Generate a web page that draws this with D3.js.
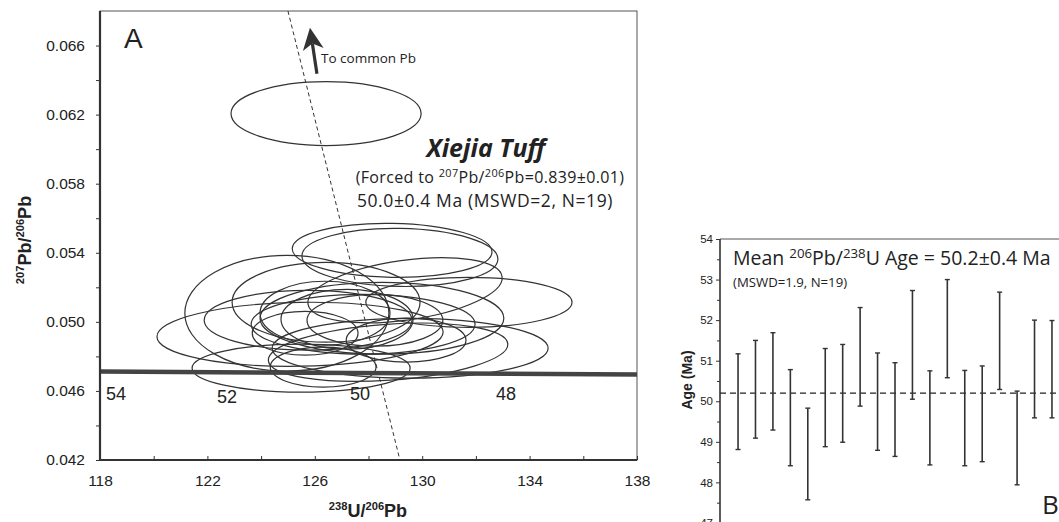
<!DOCTYPE html>
<html><head><meta charset="utf-8">
<script src="https://cdn.jsdelivr.net/npm/d3@7"></script>
<style>body{margin:0;background:#fff} svg{display:block}</style>
</head><body>
<svg id="c" width="1059" height="522"></svg>
<script>
// ---------- Panel A data (Tera-Wasserburg) ----------
const xTicksA = [118, 122, 126, 130, 134, 138];
const xMinorA = [120, 124, 128, 132, 136];
const yTicksA = [0.042, 0.046, 0.050, 0.054, 0.058, 0.062, 0.066];
const yMinorA = [0.044, 0.048, 0.052, 0.056, 0.060, 0.064];
// ellipse centres (238U/206Pb, 207Pb/206Pb), half-widths and tilt (deg)
const ellX  = [126.42,128.88,129.17,131.74,124.96,125.45,125.49,125.75,126.42,127.80,126.38,128.73,129.55,127.20,128.24,129.36,129.40,125.64,126.31,128.50];
const ellY  = [0.06206,0.05414,0.05373,0.05113,0.05050,0.04928,0.04732,0.05009,0.05113,0.04986,0.05050,0.04824,0.04847,0.05015,0.05009,0.05183,0.04894,0.04934,0.04738,0.05021];
const ellRX = [3.54,3.72,3.65,3.84,3.80,5.33,4.06,3.87,3.50,4.17,2.42,4.47,5.14,2.46,2.53,3.65,2.23,1.97,1.97,4.54];
const ellRY = [0.00185,0.00156,0.00168,0.00145,0.00335,0.00185,0.00139,0.00173,0.00231,0.00173,0.00185,0.00162,0.00173,0.00173,0.00150,0.00173,0.00127,0.00127,0.00116,0.00208];
const ellTilt = [0,1,1,0,0,-1,0,0,0,0,0,-4,0,0,0,-8,0,0,0,0];
// concordia
const concX = [118, 138];
const concY = [0.04712, 0.04695];
const ageLabels = ["54", "52", "50", "48"];
const ageLabelX = [118.6, 122.73, 127.68, 133.12];
const ageLabelY = [0.04547, 0.04530, 0.04547, 0.04547];
// common-Pb regression (dashed) and arrow
const regX = [125.0, 129.17];
const regY = [0.068, 0.042];
const arrowX = [126.08, 125.82];
const arrowY = [0.06437, 0.06703];

// ---------- Panel B data (weighted mean) ----------
const spotIdx = d3.range(1, 20);
const ageHigh = [51.17,51.50,51.69,50.78,49.83,51.30,51.40,52.31,51.19,50.95,52.73,50.75,53.00,50.76,50.87,52.69,50.25,52.00,51.99];
const ageLow  = [48.81,49.09,49.29,48.41,47.57,48.88,48.99,49.88,48.79,48.64,50.05,48.43,50.58,48.41,48.51,50.29,47.94,49.59,49.59];
const meanAge = 50.2;
const yTicksB = [47, 48, 49, 50, 51, 52, 53, 54];
const yMinorB = [46.5, 47.5, 48.5, 49.5, 50.5, 51.5, 52.5, 53.5];

const svg = d3.select("#c");
const INK = "#333";
const SANS = "'Liberation Sans', Arial, sans-serif";
const HUM = "'Open Sans', 'Noto Sans', sans-serif";

function rich(g, x, y, parts, size, opts = {}) {
  const t = g.append("text").attr("x", x).attr("y", y)
    .attr("font-size", size).attr("font-family", opts.family || HUM)
    .attr("fill", opts.fill || "#222")
    .attr("text-anchor", opts.anchor || "start");
  if (opts.weight) t.attr("font-weight", opts.weight);
  if (opts.style) t.attr("font-style", opts.style);
  if (opts.transform) t.attr("transform", opts.transform);
  if (opts.spacing) t.attr("letter-spacing", opts.spacing);
  const shift = size * 0.38, supSize = size * (opts.supScale || 0.68);
  let up = false;
  parts.forEach(([s, sup]) => {
    const ts = t.append("tspan").text(s);
    if (sup && !up) { ts.attr("dy", -shift).attr("font-size", supSize); up = true; }
    else if (sup) { ts.attr("font-size", supSize); }
    else if (!sup && up) { ts.attr("dy", shift); up = false; }
  });
  return t;
}

// ================= Panel A =================
const xA = d3.scaleLinear().domain([118, 138]).range([100, 637]);
const yA = d3.scaleLinear().domain([0.042, 0.068]).range([460, 11]);
const gA = svg.append("g");

// frame
gA.append("rect").attr("x", xA(118)).attr("y", yA(0.068))
  .attr("width", xA(138) - xA(118)).attr("height", yA(0.042) - yA(0.068))
  .attr("fill", "none").attr("stroke", "#555").attr("stroke-width", 1);

// regression dashed line
gA.append("line").attr("x1", xA(regX[0])).attr("y1", yA(regY[0]))
  .attr("x2", xA(regX[1])).attr("y2", yA(regY[1]))
  .attr("stroke", "#333").attr("stroke-width", 1).attr("stroke-dasharray", "4,3");

// ellipses
const ell = gA.append("g");
ellX.forEach((cx, i) => {
  const px = xA(cx), py = yA(ellY[i]);
  const rx = xA(cx + ellRX[i]) - px, ry = yA(ellY[i] - ellRY[i]) - py;
  ell.append("ellipse").attr("cx", px).attr("cy", py).attr("rx", rx).attr("ry", ry)
    .attr("transform", `rotate(${ellTilt[i]},${px},${py})`)
    .attr("fill", "none").attr("stroke", "#333").attr("stroke-width", 1.2);
});

// concordia
gA.append("path").datum(concX.map((x, i) => [x, concY[i]]))
  .attr("d", d3.line().x(d => xA(d[0])).y(d => yA(d[1])))
  .attr("stroke", "#444").attr("stroke-width", 4.5).attr("fill", "none");
ageLabels.forEach((s, i) => {
  gA.append("text").attr("x", xA(ageLabelX[i])).attr("y", yA(ageLabelY[i]))
    .attr("text-anchor", "middle").attr("font-family", SANS).attr("font-size", 18)
    .attr("fill", "#222").text(s);
});

// axes
const axB = d3.axisBottom(xA).tickValues(xTicksA).tickSize(-4).tickPadding(15).tickFormat(d3.format("d"));
const gx = gA.append("g").attr("transform", `translate(0,${yA(0.042)})`).call(axB);
gx.select(".domain").remove();
gx.selectAll("text").attr("font-family", SANS).attr("font-size", 15.5).attr("fill", "#222");
gx.selectAll("line").attr("stroke", INK);
gA.append("g").attr("transform", `translate(0,${yA(0.042)})`)
  .call(d3.axisBottom(xA).tickValues(xMinorA).tickSize(-4).tickFormat(""))
  .call(g => g.select(".domain").remove()).selectAll("line").attr("stroke", INK);

const axL = d3.axisLeft(yA).tickValues(yTicksA).tickSize(4).tickPadding(11).tickFormat(d3.format(".3f"));
const gy = gA.append("g").attr("transform", `translate(${xA(118)},0)`).call(axL);
gy.select(".domain").remove();
gy.selectAll("text").attr("font-family", SANS).attr("font-size", 15.5).attr("fill", "#222");
gy.selectAll("line").attr("stroke", INK);
gA.append("g").attr("transform", `translate(${xA(118)},0)`)
  .call(d3.axisLeft(yA).tickValues(yMinorA).tickSize(4).tickFormat(""))
  .call(g => g.select(".domain").remove()).selectAll("line").attr("stroke", INK);

gA.append("line").attr("x1", xA(118)).attr("x2", xA(118)).attr("y1", yA(0.068)).attr("y2", yA(0.042) + 1)
  .attr("stroke", INK).attr("stroke-width", 2.2);
gA.append("line").attr("x1", xA(118) - 1).attr("x2", xA(138)).attr("y1", yA(0.042)).attr("y2", yA(0.042))
  .attr("stroke", INK).attr("stroke-width", 2.2);

// axis titles
rich(gA, 368, 517, [["238", true], ["U/", false], ["206", true], ["Pb", false]], 18,
  { family: SANS, weight: "bold", anchor: "middle", supScale: 0.62 });
rich(gA, 0, 0, [["207", true], ["Pb/", false], ["206", true], ["Pb", false]], 18,
  { family: SANS, weight: "bold", anchor: "middle", supScale: 0.62, transform: "translate(31,240) rotate(-90)" });

// label A
gA.append("text").attr("x", 124).attr("y", 48).attr("font-family", SANS).attr("font-size", 28)
  .attr("fill", "#222").text("A");

// arrow to common Pb
const ax0 = xA(arrowX[0]), ay0 = yA(arrowY[0]), ax1 = xA(arrowX[1]), ay1 = yA(arrowY[1]);
const ang = Math.atan2(ay1 - ay0, ax1 - ax0);
const hl = 22, hw = 10.5, notch = 6;
const ux = Math.cos(ang), uy = Math.sin(ang), nx = -uy, ny = ux;
const bx = ax1 - ux * hl, by = ay1 - uy * hl;
gA.append("line").attr("x1", ax0).attr("y1", ay0).attr("x2", bx + ux * notch).attr("y2", by + uy * notch)
  .attr("stroke", "#333").attr("stroke-width", 3.2);
gA.append("path")
  .attr("d", `M${ax1},${ay1} L${bx + nx * hw},${by + ny * hw} L${bx + ux * notch},${by + uy * notch} L${bx - nx * hw},${by - ny * hw} Z`)
  .attr("fill", "#333");
gA.append("text").attr("x", 321).attr("y", 63).attr("font-family", HUM).attr("font-size", 13.5)
  .attr("fill", "#222").text("To common Pb");

// title block
gA.append("text").attr("x", 486).attr("y", 157).attr("text-anchor", "middle")
  .attr("font-family", HUM).attr("font-size", 25).attr("font-weight", "bold").attr("font-style", "italic")
  .attr("fill", "#222").text("Xiejia Tuff");
rich(gA, 490, 183, [["(Forced to ", false], ["207", true], ["Pb/", false], ["206", true], ["Pb=0.839±0.01)", false]], 16,
  { anchor: "middle", spacing: 0.35 });
gA.append("text").attr("x", 485).attr("y", 206.5).attr("text-anchor", "middle")
  .attr("font-family", HUM).attr("font-size", 17.5).attr("letter-spacing", 0.6).attr("fill", "#222")
  .text("50.0±0.4 Ma (MSWD=2, N=19)");

// ================= Panel B =================
const xB = d3.scaleLinear().domain([0, 20]).range([720.6, 1069.4]);
const yB = d3.scaleLinear().domain([46, 54]).range([563.5, 239]);
const gB = svg.append("g");

gB.append("line").attr("x1", 720).attr("x2", 1059).attr("y1", yB(54)).attr("y2", yB(54))
  .attr("stroke", "#555").attr("stroke-width", 1);

const gyB = gB.append("g").attr("transform", "translate(720,0)")
  .call(d3.axisLeft(yB).tickValues(yTicksB).tickSize(4).tickPadding(3).tickFormat(d3.format("d")));
gyB.select(".domain").remove();
gyB.selectAll("text").attr("font-family", SANS).attr("font-size", 11.5).attr("fill", "#222");
gyB.selectAll("line").attr("stroke", INK);
gB.append("g").attr("transform", "translate(720,0)")
  .call(d3.axisLeft(yB).tickValues(yMinorB).tickSize(3).tickFormat(""))
  .call(g => g.select(".domain").remove()).selectAll("line").attr("stroke", INK);
gB.append("line").attr("x1", 720).attr("x2", 720).attr("y1", yB(54)).attr("y2", 522)
  .attr("stroke", INK).attr("stroke-width", 1.6);

// mean line
gB.append("line").attr("x1", 720).attr("x2", 1059).attr("y1", yB(meanAge)).attr("y2", yB(meanAge))
  .attr("stroke", "#222").attr("stroke-width", 1.4).attr("stroke-dasharray", "6,4");

// error bars
spotIdx.forEach((k, i) => {
  const x = xB(k), y1 = yB(ageHigh[i]), y2 = yB(ageLow[i]);
  gB.append("line").attr("x1", x).attr("x2", x).attr("y1", y1).attr("y2", y2)
    .attr("stroke", "#333").attr("stroke-width", 1.6);
  [y1, y2].forEach(y => gB.append("line").attr("x1", x - 2.5).attr("x2", x + 2.5).attr("y1", y).attr("y2", y)
    .attr("stroke", "#333").attr("stroke-width", 1.4));
});

rich(gB, 733, 265, [["Mean ", false], ["206", true], ["Pb/", false], ["238", true], ["U Age = 50.2±0.4 Ma", false]], 19.5);
gB.append("text").attr("x", 733).attr("y", 287).attr("font-family", HUM).attr("font-size", 13.2)
  .attr("fill", "#222").text("(MSWD=1.9, N=19)");
gB.append("text").attr("transform", "translate(692,380) rotate(-90)").attr("text-anchor", "middle")
  .attr("font-family", SANS).attr("font-size", 14).attr("font-weight", "bold").attr("fill", "#222").text("Age (Ma)");
gB.append("text").attr("x", 1042).attr("y", 514).attr("font-family", HUM).attr("font-size", 26)
  .attr("fill", "#222").text("B");
</script></body></html>
